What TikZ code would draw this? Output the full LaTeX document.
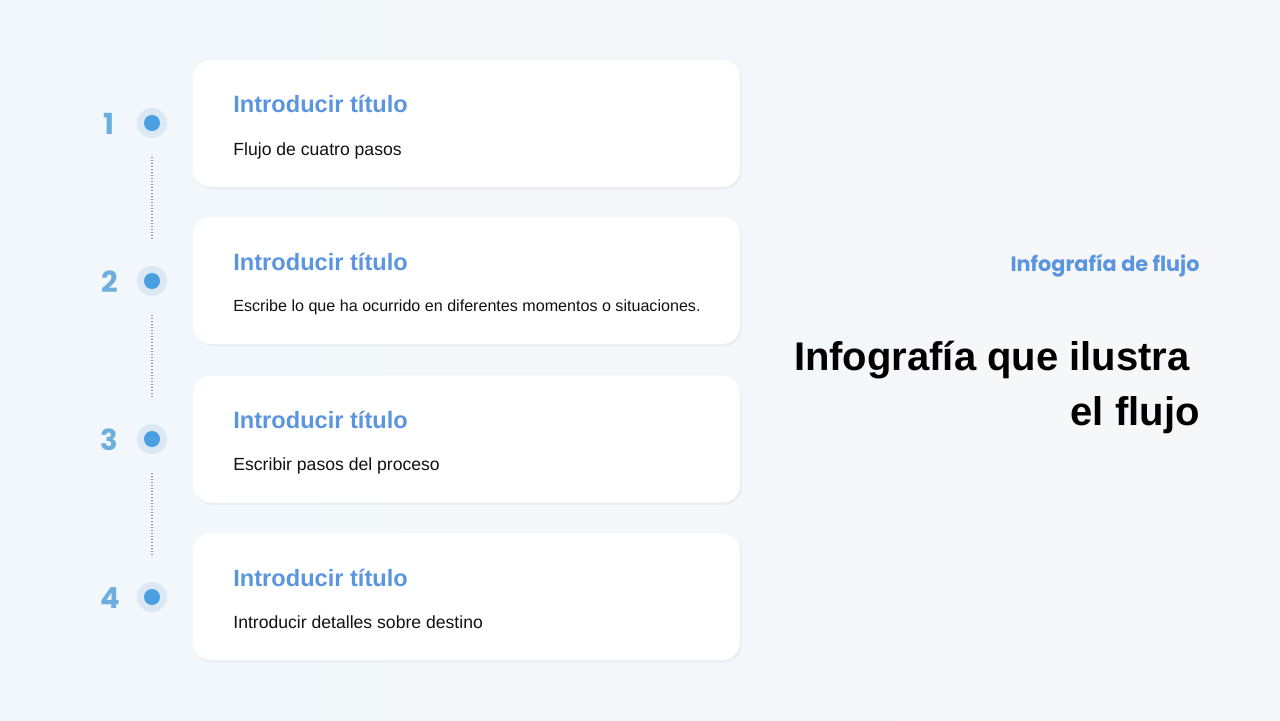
\documentclass[tikz,border=0pt]{standalone}
\usepackage{fontspec}
\setmainfont{Liberation Sans}
\newfontfamily\popfont{Poppins}
\usetikzlibrary{positioning, calc, shadows}
\definecolor{PageBg}{HTML}{F6F7F9}
\definecolor{PageBgL}{HTML}{F1F7FB}
\definecolor{TitleBlue}{HTML}{5A95DF}
\definecolor{NumBlue}{HTML}{6CAEDD}
\definecolor{DotBlue}{HTML}{4A9FE0}
\definecolor{HaloBlue}{HTML}{DCE8F4}
\definecolor{LineGrey}{HTML}{8D9CB0}
\definecolor{InkBlack}{HTML}{111111}

\tikzset{
  card/.style={rectangle, rounded corners=9pt, fill=white,
               minimum width=273.5pt, minimum height=63.5pt,
               drop shadow={shadow xshift=0.8pt, shadow yshift=-1.2pt, opacity=0.07}},
  cardtitle/.style={anchor=base west, inner sep=0pt, text=TitleBlue,
                    font=\fontsize{11.8}{14}\selectfont\bfseries},
  cardtext/.style={anchor=base west, inner sep=0pt, text=InkBlack,
                   font=\fontsize{8.8}{11}\selectfont},
  stepnum/.style={anchor=base, inner sep=0pt, text=NumBlue,
                  font=\popfont\fontsize{14.5}{16}\selectfont\bfseries},
  halo/.style={circle, fill=HaloBlue, minimum size=15pt, inner sep=0pt},
  stepdot/.style={circle, fill=DotBlue, minimum size=8pt, inner sep=0pt},
  dotline/.style={LineGrey, line width=0.7pt, dash pattern=on 0.5pt off 1pt,
                  shorten <=9.5pt, shorten >=13pt},
}

\begin{document}
\begin{tikzpicture}[x=0.5pt, y=-0.5pt]
    % Page
    \useasboundingbox (0,0) rectangle (1280,720);
    \fill[left color=PageBgL, right color=PageBg] (0,0) rectangle (1280,720);

    % Four cards
    \node[card] (c1) at (466.5,123.5) {};
    \node[card] (c2) at (466.5,280.5) {};
    \node[card] (c3) at (466.5,439) {};
    \node[card] (c4) at (466.5,596.5) {};

    % Card titles and texts
    \node[cardtitle] (t1) at (233,112) {Introducir título};
    \node[cardtext] (b1) at (233,155) {Flujo de cuatro pasos};
    \node[cardtitle] (t2) at (233,270) {Introducir título};
    \node[cardtext, font=\fontsize{8.05}{10}\selectfont] (b2) at (233,311)
        {Escribe lo que ha ocurrido en diferentes momentos o situaciones.};
    \node[cardtitle] (t3) at (233,428) {Introducir título};
    \node[cardtext] (b3) at (233,470) {Escribir pasos del proceso};
    \node[cardtitle] (t4) at (233,586) {Introducir título};
    \node[cardtext] (b4) at (233,628) {Introducir detalles sobre destino};

    % Step markers
    \node[halo] (h1) at (152,123) {};
    \node[halo] (h2) at (152,281) {};
    \node[halo] (h3) at (152,439) {};
    \node[halo] (h4) at (152,597) {};
    \node[stepdot] at (h1) {};
    \node[stepdot] at (h2) {};
    \node[stepdot] at (h3) {};
    \node[stepdot] at (h4) {};

    \node[stepnum] (n1) at (109,134) {1};
    \node[stepnum] (n2) at (110,292) {2};
    \node[stepnum] (n3) at (109,450) {3};
    \node[stepnum] (n4) at (110,608) {4};

    \draw[dotline] (h1) -- (h2);
    \draw[dotline] (h2) -- (h3);
    \draw[dotline] (h3) -- (h4);

    % Right-hand heading
    \node[anchor=base east, inner sep=0pt, text=TitleBlue,
          font=\popfont\fontsize{10.4}{12}\selectfont\bfseries] (sub) at (1200,271)
        {Infografía de flujo};
    \node[anchor=base east, inner sep=0pt, text=black, align=right,
          font=\fontsize{20}{27.5}\selectfont\bfseries] (head) at (1200,425)
        {Infografía que ilustra\kern5pt\\el flujo};
\end{tikzpicture}
\end{document}
